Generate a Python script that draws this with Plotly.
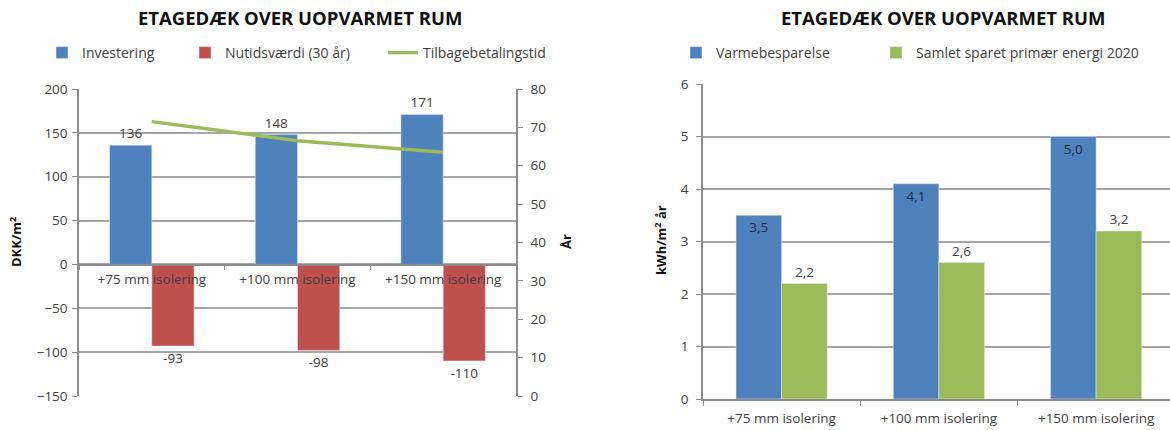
import plotly.graph_objects as go

W, H = 1170, 430


def px(x):
    return x / W


def py(y):
    return (H - y) / H


categories = ["+75 mm isolering", "+100 mm isolering", "+150 mm isolering"]
investering = [136, 148, 171]
nutidsvaerdi = [-93, -98, -110]
tilbagebetalingstid = [71.5, 66.5, 63.5]
varmebesparelse = [3.5, 4.1, 5.0]
primaer_energi = [2.2, 2.6, 3.2]

title_text = "ETAGEDÆK OVER UOPVARMET RUM"

BLUE = "#4F81BD"
RED = "#C0504D"
GREEN = "#9BBB59"
GRID = "#a6a6a6"
AXIS = "#8c8c8c"
TXT = "#404040"
FONT = "Open Sans"

fig = go.Figure()

# Left chart: investment / present value bars + payback line on secondary axis
fig.add_trace(go.Bar(
    x=categories, y=investering, name="Investering", marker_color=BLUE,
    text=investering, textposition="outside", cliponaxis=False,
    textfont=dict(size=13.5, color=TXT), xaxis="x", yaxis="y", legend="legend",
))
fig.add_trace(go.Bar(
    x=categories, y=nutidsvaerdi, name="Nutidsværdi (30 år)", marker_color=RED,
    text=nutidsvaerdi, textposition="outside", cliponaxis=False,
    textfont=dict(size=13.5, color=TXT), xaxis="x", yaxis="y", legend="legend2",
))
fig.add_trace(go.Scatter(
    x=categories, y=tilbagebetalingstid, name="Tilbagebetalingstid", mode="lines",
    line=dict(color=GREEN, width=3.5), xaxis="x", yaxis="y3", legend="legend3",
))

# Right chart: energy savings
fig.add_trace(go.Bar(
    x=categories, y=varmebesparelse, name="Varmebesparelse", marker_color=BLUE,
    texttemplate="%{y:.1f}", textposition="inside", insidetextanchor="end",
    textfont=dict(size=13.5, color="#1f2d44"), xaxis="x2", yaxis="y2", legend="legend4",
))
fig.add_trace(go.Bar(
    x=categories, y=primaer_energi, name="Samlet sparet primær energi 2020",
    marker_color=GREEN, texttemplate="%{y:.1f}", textposition="outside",
    cliponaxis=False, textfont=dict(size=13.5, color=TXT),
    xaxis="x2", yaxis="y2", legend="legend5",
))

axis_common = dict(
    showline=True, linecolor=AXIS, linewidth=1.5, automargin=False,
    tickfont=dict(size=13.5, color=TXT), ticks="outside", ticklen=5, tickcolor=AXIS,
)

legend_common = dict(
    orientation="h", yanchor="middle", xanchor="left", y=py(53),
    bgcolor="rgba(0,0,0,0)", font=dict(size=14, color=TXT, family=FONT),
)

fig.update_layout(
    width=W, height=H,
    margin=dict(l=0, r=0, t=0, b=0, autoexpand=False),
    paper_bgcolor="white", plot_bgcolor="white",
    font=dict(family=FONT, color=TXT),
    separators=", ",
    barmode="group", bargap=0.42, bargroupgap=0,
    xaxis=dict(
        domain=[px(79), px(516)], anchor="free", position=py(264.5),
        range=[-0.5, 2.5], tickson="boundaries", showgrid=False,
        ticklabelstandoff=3, **axis_common,
    ),
    yaxis=dict(
        domain=[py(396), py(89)], anchor="x", range=[-150, 200], dtick=50,
        showgrid=True, gridcolor=GRID, gridwidth=1.5, zeroline=False,
        ticklabelstandoff=2, **axis_common,
    ),
    yaxis3=dict(
        overlaying="y", side="right", anchor="x", range=[0, 80], dtick=10,
        showgrid=False, zeroline=False, ticklabelstandoff=5, **axis_common,
    ),
    xaxis2=dict(
        domain=[px(703), 1], anchor="y2", range=[-0.5, 2.47],
        tickson="boundaries", showgrid=False, ticklabelstandoff=6, **axis_common,
    ),
    yaxis2=dict(
        domain=[py(399), py(84)], anchor="x2", range=[0, 6], dtick=1,
        showgrid=True, gridcolor=GRID, gridwidth=1.5, zeroline=False,
        ticklabelstandoff=5, **axis_common,
    ),
    legend=dict(x=px(42), **legend_common),
    legend2=dict(x=px(185), **legend_common),
    legend3=dict(x=px(383), **legend_common),
    legend4=dict(x=px(676), **legend_common),
    legend5=dict(x=px(876), **legend_common),
    showlegend=True,
)

annotations = [
    dict(text=f"<b>{title_text}</b>", x=px(300), y=py(18)),
    dict(text=f"<b>{title_text}</b>", x=px(943), y=py(18)),
]
for a in annotations:
    a.update(xref="paper", yref="paper", showarrow=False, xanchor="center",
             yanchor="middle", font=dict(size=18.5, color="#111111", family=FONT))

axis_titles = [
    dict(text="<b>DKK/m<sup>2</sup></b>", x=px(15), y=py(242)),
    dict(text="<b>År</b>", x=px(566), y=py(242)),
    dict(text="<b>kWh/m<sup>2</sup> år</b>", x=px(660), y=py(240)),
]
for a in axis_titles:
    a.update(xref="paper", yref="paper", showarrow=False, xanchor="center",
             yanchor="middle", textangle=-90, font=dict(size=13, color="#111111", family=FONT))

fig.update_layout(annotations=annotations + axis_titles)

fig.write_html("out.html")
